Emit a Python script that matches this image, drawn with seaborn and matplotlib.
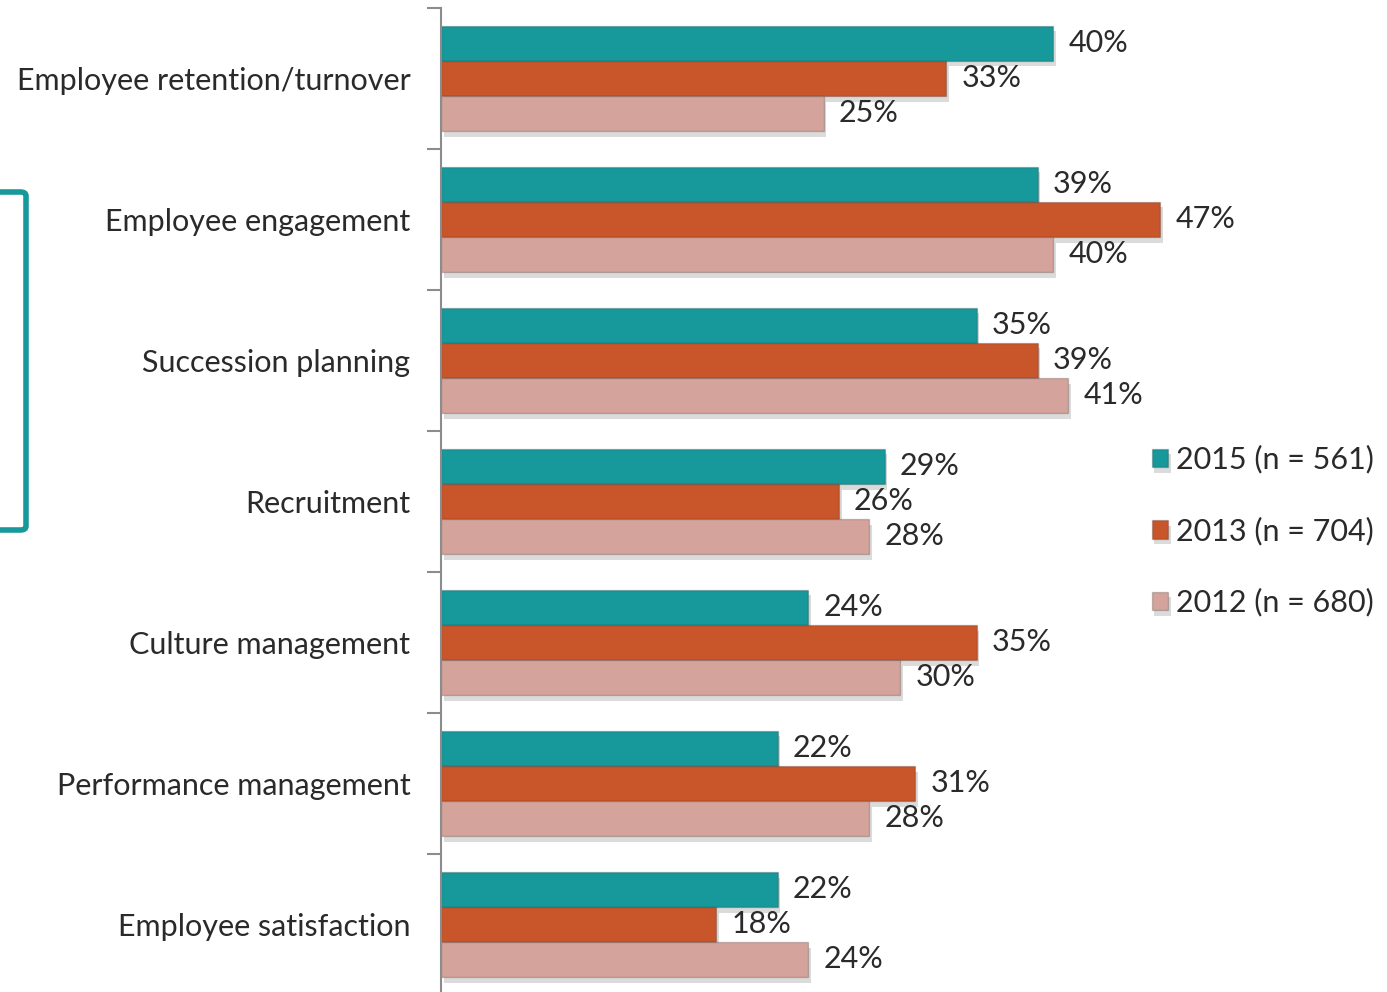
import seaborn as sns
import matplotlib.pyplot as plt
import matplotlib.patheffects as pe
from matplotlib.patches import FancyBboxPatch
import pandas as pd

categories = ["Employee retention/turnover", "Employee engagement", "Succession planning",
              "Recruitment", "Culture management", "Performance management",
              "Employee satisfaction"]
years = ["2015 (n = 561)", "2013 (n = 704)", "2012 (n = 680)"]
v2015 = [40, 39, 35, 29, 24, 22, 22]
v2013 = [33, 47, 39, 26, 35, 31, 18]
v2012 = [25, 40, 41, 28, 30, 28, 24]
colors = ["#17989a", "#c9552a", "#d4a39b"]

rows = []
for yr, vals in zip(years, [v2015, v2013, v2012]):
    for c, v in zip(categories, vals):
        rows.append({"cat": c, "year": yr, "val": v})
df = pd.DataFrame(rows)

sns.set_style("white")
plt.rcParams["font.family"] = ["Lato", "DejaVu Sans"]

fig = plt.figure(figsize=(13.87, 9.92), dpi=100)
ax = fig.add_axes([441 / 1387, -0.003, 765 / 1387, 0.995])

sns.barplot(data=df, y="cat", x="val", hue="year", order=categories, hue_order=years,
            palette=colors, orient="h", width=0.745, saturation=1, ax=ax, legend=True)

for patch in ax.patches:
    patch.set_edgecolor("#00000030")
    patch.set_linewidth(1)
    patch.set_path_effects([pe.SimplePatchShadow(offset=(2, -4), shadow_rgbFace="#999999", alpha=0.35),
                            pe.Normal()])

for cont, vals in zip(ax.containers, [v2015, v2013, v2012]):
    ax.bar_label(cont, labels=[f"{v}%" for v in vals], padding=11, fontsize=22,
                 color="#2a2a2a")

ax.set_xlim(0, 50)
ax.set_ylim(6.5, -0.5)
ax.set_xlabel("")
ax.set_ylabel("")
ax.set_xticks([])
ax.tick_params(axis="y", which="major", length=0, pad=22, labelsize=22, labelcolor="#2a2a2a")
ax.set_yticks([i + 0.5 for i in range(-1, 7)], minor=True)
ax.tick_params(axis="y", which="minor", left=True, length=10, width=1.5, color="#8c8c8c",
               direction="out")
for s in ["top", "right", "bottom"]:
    ax.spines[s].set_visible(False)
ax.spines["left"].set_color("#8c8c8c")
ax.spines["left"].set_linewidth(1.5)

handles, labels = ax.get_legend_handles_labels()
ax.get_legend().remove()
leg = fig.legend(handles, labels, loc="center left", bbox_to_anchor=(1124 / 1387, 1 - 531 / 992),
                 frameon=False, fontsize=22, handlelength=0.55, handleheight=0.55,
                 handletextpad=0.25, labelspacing=1.4)
for t in leg.get_texts():
    t.set_color("#2a2a2a")

# teal bracket on the left
bracket = FancyBboxPatch((-60 / 1387, 1 - 530 / 992), 86 / 1387, 338 / 992,
                         boxstyle="round,pad=0,rounding_size=0.004",
                         transform=fig.transFigure, fill=False, edgecolor="#17989a",
                         linewidth=4, clip_on=False)
fig.patches.append(bracket)

fig.savefig("out.png", dpi=100)
